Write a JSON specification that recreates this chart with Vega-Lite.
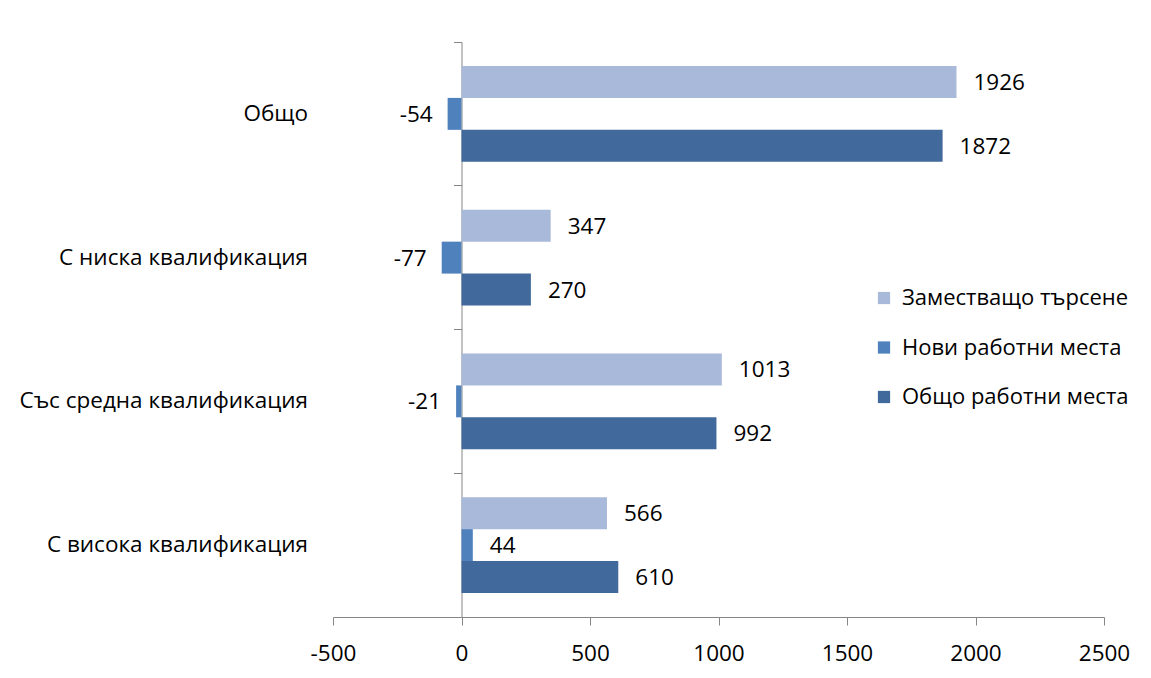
{
  "$schema": "https://vega.github.io/schema/vega-lite/v6.json",
  "autosize": "none",
  "width": 771,
  "height": 575,
  "padding": {"left": 333, "top": 42, "right": 47, "bottom": 61},
  "background": "white",
  "config": {
    "view": {"stroke": null},
    "font": "Open Sans",
    "axis": {"labelFont": "Open Sans", "labelColor": "black", "domainColor": "#868686", "tickColor": "#868686", "grid": false}
  },
  "data": {
    "values": [
      {"cat": "Общо", "series": "Заместващо търсене", "value": 1926},
      {"cat": "Общо", "series": "Нови работни места", "value": -54},
      {"cat": "Общо", "series": "Общо работни места", "value": 1872},
      {"cat": "С ниска квалификация", "series": "Заместващо търсене", "value": 347},
      {"cat": "С ниска квалификация", "series": "Нови работни места", "value": -77},
      {"cat": "С ниска квалификация", "series": "Общо работни места", "value": 270},
      {"cat": "Със средна квалификация", "series": "Заместващо търсене", "value": 1013},
      {"cat": "Със средна квалификация", "series": "Нови работни места", "value": -21},
      {"cat": "Със средна квалификация", "series": "Общо работни места", "value": 992},
      {"cat": "С висока квалификация", "series": "Заместващо търсене", "value": 566},
      {"cat": "С висока квалификация", "series": "Нови работни места", "value": 44},
      {"cat": "С висока квалификация", "series": "Общо работни места", "value": 610}
    ]
  },
  "encoding": {
    "y": {
      "field": "cat", "type": "nominal", "sort": null,
      "scale": {"paddingInner": 0, "paddingOuter": 0},
      "axis": {"title": null, "offset": -128.5, "tickSize": 8, "bandPosition": 0, "labelBound": false, "labelPadding": 146, "labelFontSize": 22.5, "labelLimit": 400}
    },
    "yOffset": {
      "field": "series", "type": "nominal",
      "sort": ["Заместващо търсене", "Нови работни места", "Общо работни места"],
      "scale": {"paddingInner": 0, "paddingOuter": 0.75}
    },
    "x": {
      "field": "value", "type": "quantitative",
      "scale": {"domain": [-500, 2500], "nice": false, "zero": false},
      "axis": {"title": null, "values": [-500, 0, 500, 1000, 1500, 2000, 2500], "tickSize": 8, "labelPadding": 17, "labelFontSize": 22.5, "labelExpr": "'' + datum.value", "labelFlush": false}
    }
  },
  "layer": [
    {
      "mark": {"type": "bar"},
      "encoding": {
        "color": {
          "field": "series", "type": "nominal",
          "sort": ["Заместващо търсене", "Нови работни места", "Общо работни места"],
          "scale": {"domain": ["Заместващо търсене", "Нови работни места", "Общо работни места"], "range": ["#A9B9D9", "#4F81BD", "#41699B"]},
          "legend": {
            "title": null, "orient": "none", "legendX": 540, "legendY": 245,
            "symbolType": "square", "symbolSize": 150, "symbolStrokeWidth": 0,
            "labelFontSize": 22, "labelFont": "Open Sans", "labelColor": "black",
            "rowPadding": 27.5, "labelOffset": 7, "labelLimit": 400
          }
        }
      }
    },
    {
      "transform": [{"filter": "datum.value >= 0"}],
      "mark": {"type": "text", "align": "left", "dx": 17, "dy": 1, "fontSize": 22.5, "color": "black"},
      "encoding": {"text": {"field": "value", "type": "quantitative"}}
    },
    {
      "transform": [{"filter": "datum.value < 0"}],
      "mark": {"type": "text", "align": "right", "dx": -15, "dy": 1, "fontSize": 22.5, "color": "black"},
      "encoding": {"text": {"field": "value", "type": "nominal"}}
    }
  ]
}
